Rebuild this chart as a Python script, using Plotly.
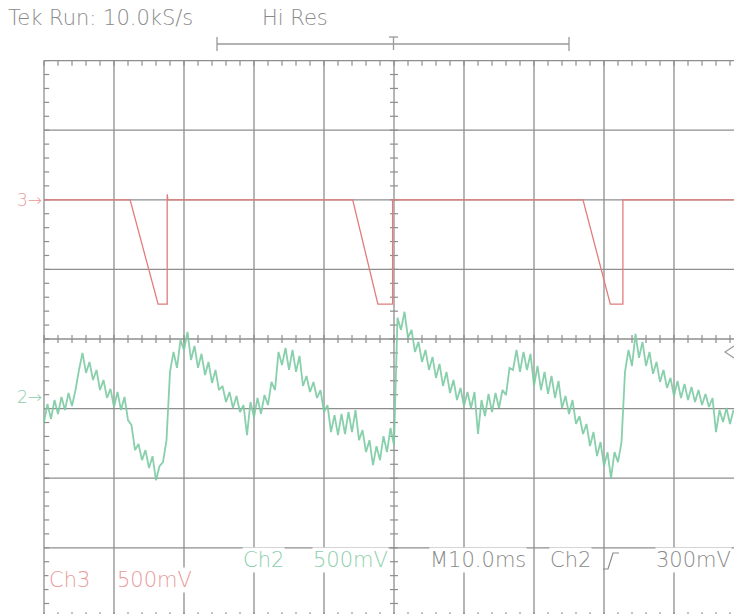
import plotly.graph_objects as go

W, H = 734, 614

# ---------------- data ----------------
# Channel 2 (green): samples every 0.5 ms starting at -50 ms (trigger at 0), values in mV
ch2_start_ms = -50.0
ch2_step_ms = 0.5
ch2_mv = [
    -180, -50, -158, -22, -122, 0, -94, 29, -65, 50,
    194, 317, 173, 252, 122, 194, 50, 122, -7, 58,
    -72, 36, -94, 0, -166, -202, -382, -338, -454, -382,
    -511, -425, -598, -497, -468, -310, 180, 324, 209, 410,
    338, 468, 266, 367, 209, 310, 158, 252, 101, 194,
    50, 79, -36, 36, -79, 7, -108, -58, -274, -36,
    -144, -7, -122, 14, -58, 108, 50, 324, 230, 353,
    194, 338, 180, 295, 79, 151, 36, 108, -7, 50,
    -108, -58, -252, -130, -274, -122, -266, -108, -252, -94,
    -310, -238, -396, -310, -490, -353, -454, -281, -396, -223,
    -346, 569, 482, 612, 425, 482, 324, 396, 252, 338,
    194, 288, 137, 238, 79, 180, 29, 122, -22, 65,
    -65, 36, -79, 36, -266, -22, -137, 22, -108, 29,
    -79, 50, 14, 209, 194, 338, 180, 324, 194, 310,
    79, 223, 50, 180, 22, 151, -7, 115, -79, 7,
    -122, -22, -194, -137, -266, -194, -353, -252, -425, -324,
    -497, -396, -583, -396, -468, -324, 180, 338, 223, 454,
    281, 396, 223, 324, 166, 252, 108, 194, 65, 137,
    7, 115, -7, 94, -22, 72, -36, 50, -58, 22,
    -72, -7, -252, -94, -180, -79, -194, -94,
]
ch2_volts_per_div = 0.5
ch2_ground_div = -0.833

# Channel 3 (red): breakpoints of the trace, time in ms, value in volts
ch3_t_ms = [-50.0, -37.7, -33.7, -32.4, -32.4, -32.3, -5.9, -2.3, -0.2, -0.2,
            27.0, 30.9, 32.7, 32.7, 48.6]
ch3_v = [0, 0, -0.75, -0.75, 0.04, 0, 0, -0.75, -0.75, 0,
         0, -0.75, -0.75, 0, 0]
ch3_volts_per_div = 0.5
ch3_ground_div = 2.0

# readout texts
header_left = "Tek Run: 10.0kS/s"
header_mode = "Hi Res"
ch2_label, ch2_scale = "Ch2", "500mV"
ch3_label, ch3_scale = "Ch3", "500mV"
time_label = "M10.0ms"
trig_src = "Ch2"
trig_level = "300mV"

# ---------------- geometry / style ----------------
CX, CY = 394.0, 339.0   # screen centre in px
PX_MS = 7.0             # px per ms
PX_DIV = 69.6           # px per vertical division
GRID = "#8e8e8e"
TXT = "#8a8a8a"
GREEN = "#7ccba2"
GREEN_TXT = "#8ccfac"
RED = "#e27c7c"
RED_TXT = "#e99a9a"
FONT = "DejaVu Sans"

x_range = [-CX / PX_MS, (W - CX) / PX_MS]
y_range = [(CY - H) / PX_DIV, CY / PX_DIV]


def xp(px):
    return px / W


def yp(py):
    return 1 - py / H


fig = go.Figure()

# graticule minor ticks
tx, ty = [], []
tl_ms = 4 / PX_MS
tl_div = 4 / PX_DIV
for i in range(-25, 26):
    t = i * 2.0
    tx += [t, t, None]
    ty += [-tl_div, tl_div, None]
    tx += [t, t, None, t, t, None]
    ty += [4, 4 - 1.3 * tl_div, None, -4, -4 + 1.3 * tl_div, None]
for j in range(-20, 21):
    d = j * 0.2
    tx += [-tl_ms, tl_ms, None, -50, -50 + 1.3 * tl_ms, None]
    ty += [d, d, None, d, d, None]
fig.add_trace(go.Scatter(x=tx, y=ty, mode="lines", line=dict(color=GRID, width=1.2),
                         hoverinfo="skip", showlegend=False))

# Ch3 trace
fig.add_trace(go.Scatter(
    x=ch3_t_ms,
    y=[ch3_ground_div + v / ch3_volts_per_div for v in ch3_v],
    mode="lines", line=dict(color=RED, width=1.3), hoverinfo="skip", showlegend=False))

# Ch2 trace
ch2_t = [ch2_start_ms + i * ch2_step_ms for i in range(len(ch2_mv))]
fig.add_trace(go.Scatter(
    x=ch2_t,
    y=[ch2_ground_div + mv / 1000 / ch2_volts_per_div for mv in ch2_mv],
    mode="lines", line=dict(color=GREEN, width=1.8), opacity=0.9,
    hoverinfo="skip", showlegend=False))

shapes = []
for i in range(-5, 6):
    shapes.append(dict(type="line", xref="x", yref="y", x0=i * 10, x1=i * 10, y0=-4, y1=4,
                       line=dict(color=GRID, width=1.3), layer="below"))
for j in range(-4, 5):
    shapes.append(dict(type="line", xref="x", yref="y", x0=-50, x1=50, y0=j, y1=j,
                       line=dict(color=GRID, width=1.3), layer="below"))

# record-length bracket at the top, with the trigger-position "T"
BR = "#9a9a9a"
shapes.append(dict(type="line", xref="paper", yref="paper", x0=xp(217), x1=xp(569),
                   y0=yp(44), y1=yp(44), line=dict(color=BR, width=1.3)))
for bx in (217, 569):
    shapes.append(dict(type="line", xref="paper", yref="paper", x0=xp(bx), x1=xp(bx),
                       y0=yp(37), y1=yp(51), line=dict(color=BR, width=1.3)))
shapes.append(dict(type="line", xref="paper", yref="paper", x0=xp(389), x1=xp(398),
                   y0=yp(37), y1=yp(37), line=dict(color=BR, width=1.3)))
shapes.append(dict(type="line", xref="paper", yref="paper", x0=xp(393.5), x1=xp(393.5),
                   y0=yp(37), y1=yp(50), line=dict(color=BR, width=1.3)))
# trigger level marker (right edge)
shapes.append(dict(type="path", xref="paper", yref="paper",
                   path=f"M {xp(734)} {yp(346)} L {xp(725)} {yp(352)} L {xp(734)} {yp(358)}",
                   line=dict(color=BR, width=1.2)))
# trigger slope symbol
shapes.append(dict(type="path", xref="paper", yref="paper",
                   path=(f"M {xp(603)} {yp(569)} L {xp(608)} {yp(569)} "
                         f"L {xp(613)} {yp(553)} L {xp(619)} {yp(553)}"),
                   line=dict(color=TXT, width=1.2)))

annotations = []


def label(text, px, py, color, size=21, bg="white", anchor="left"):
    annotations.append(dict(text=text, x=xp(px), y=yp(py), xref="paper", yref="paper",
                            xanchor=anchor, yanchor="middle", showarrow=False,
                            font=dict(family=FONT, size=size, color=color, weight=200),
                            bgcolor=bg, borderpad=0))


label(header_left, 7, 18, TXT, size=21, bg="rgba(0,0,0,0)")
label(header_mode, 261, 18, TXT, size=21, bg="rgba(0,0,0,0)")
label("3→", 43, 200, RED_TXT, size=17, bg="rgba(0,0,0,0)", anchor="right")
label("2→", 43, 397, GREEN_TXT, size=17, bg="rgba(0,0,0,0)", anchor="right")
label(ch2_label, 242, 560, GREEN_TXT)
label(ch2_scale, 312, 560, GREEN_TXT)
label(time_label, 429, 560, TXT)
label(trig_src, 549, 560, TXT)
label(trig_level, 732, 560, TXT, anchor="right")
label(ch3_label, 48, 580, RED_TXT)
label(ch3_scale, 116, 580, RED_TXT)

fig.update_layout(
    width=W, height=H,
    margin=dict(l=0, r=0, t=0, b=0),
    paper_bgcolor="white", plot_bgcolor="white",
    xaxis=dict(range=x_range, visible=False, fixedrange=True),
    yaxis=dict(range=y_range, visible=False, fixedrange=True),
    shapes=shapes, annotations=annotations,
    showlegend=False,
)

fig.write_html(
    "out.html",
    config={"displayModeBar": False},
    post_script="document.body.style.margin='0';document.body.style.overflow='hidden';",
)
